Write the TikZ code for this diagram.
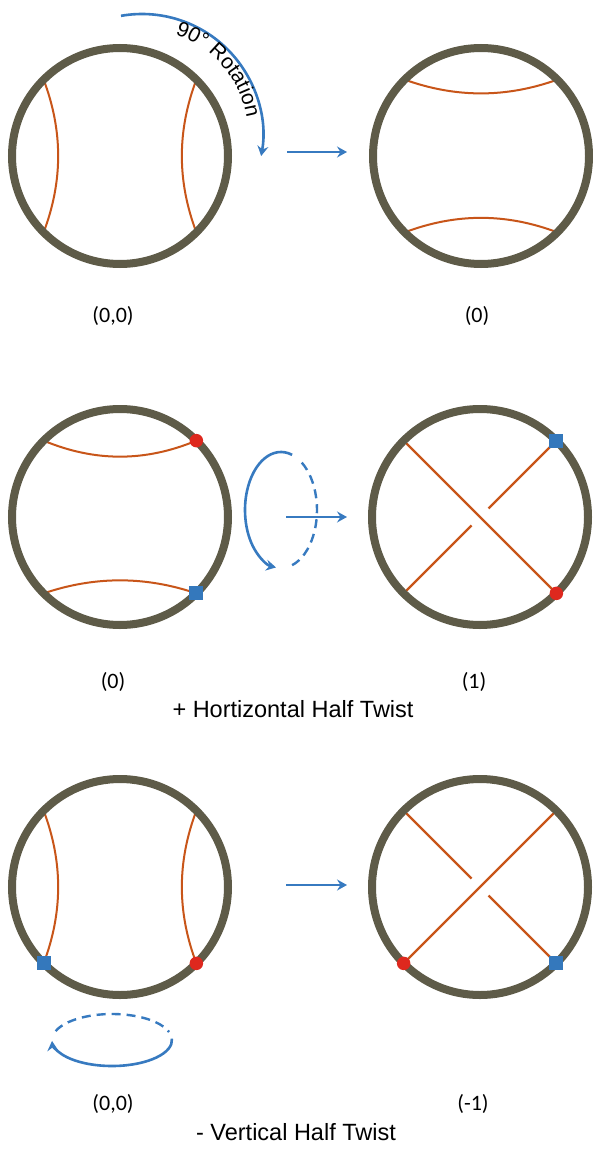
\documentclass[tikz,border=0pt]{standalone}
\usepackage{fontspec}
\setmainfont{Liberation Sans}
\newfontfamily\labf{Carlito}
\newfontfamily\arf{Liberation Sans}
\usetikzlibrary{arrows.meta,decorations.text}
\definecolor{ring}{RGB}{94,91,72}
\definecolor{chordc}{RGB}{200,85,25}
\definecolor{arrb}{RGB}{55,122,192}
\definecolor{dotred}{RGB}{222,40,30}
\definecolor{sqblue}{RGB}{52,120,188}
\pgfdeclarelayer{bg}
\pgfdeclarelayer{paper}
\pgfsetlayers{paper,bg,main}
\tikzset{
  ringnode/.style={circle,draw=ring,line width=8pt,minimum size=216pt,inner sep=0pt,outer sep=0pt},
  chord/.style={draw=chordc,line width=2pt},
  xline/.style={draw=chordc,line width=2.4pt},
  barrow/.style={draw=arrb,line width=2.6pt,-{Stealth[length=10pt,width=11pt,inset=3.5pt]}},
  dashline/.style={draw=arrb,line width=2.4pt,dash pattern=on 9pt off 6pt},
  reddot/.style={circle,fill=dotred,minimum size=13.5pt,inner sep=0pt},
  bluesq/.style={rectangle,fill=sqblue,minimum size=14pt,inner sep=0pt},
  lab/.style={font=\labf\fontsize{22}{26}\selectfont,inner sep=0pt},
  captxt/.style={font=\arf\fontsize{23.5}{28}\selectfont,inner sep=0pt,anchor=base},
}
\begin{document}
\begin{tikzpicture}[x=1pt,y=1pt]
\useasboundingbox (0,0) rectangle (593,-1150);
\begin{pgfonlayer}{paper}
\fill[white] (0,0) rectangle (593,-1150);
\end{pgfonlayer}
% rings
\node[ringnode] (c1) at (120,-156) {};
\node[ringnode] (c2) at (481,-156) {};
\node[ringnode] (c3) at (120,-517) {};
\node[ringnode] (c4) at (480,-517) {};
\node[ringnode] (c5) at (120,-887) {};
\node[ringnode] (c6) at (480,-887) {};
\begin{pgfonlayer}{bg}
% row 1
\draw[chord] (c1.135) .. controls ([shift={(-57pt,25pt)}]c1.center) and ([shift={(-57pt,-25pt)}]c1.center) .. (c1.225);
\draw[chord] (c1.45) .. controls ([shift={(57pt,25pt)}]c1.center) and ([shift={(57pt,-25pt)}]c1.center) .. (c1.-45);
\draw[chord] (c2.135) .. controls ([shift={(-25pt,58pt)}]c2.center) and ([shift={(25pt,58pt)}]c2.center) .. (c2.45);
\draw[chord] (c2.225) .. controls ([shift={(-25pt,-57pt)}]c2.center) and ([shift={(25pt,-57pt)}]c2.center) .. (c2.-45);
% row 2
\draw[chord] (c3.135) .. controls ([shift={(-25pt,55pt)}]c3.center) and ([shift={(25pt,55pt)}]c3.center) .. (c3.45);
\draw[chord] (c3.225) .. controls ([shift={(-25pt,-59pt)}]c3.center) and ([shift={(25pt,-59pt)}]c3.center) .. (c3.-45);
\draw[xline] (c4.135) -- (c4.-45);
\draw[xline] (c4.225) -- ([shift={(-8.5pt,-8.5pt)}]c4.center);
\draw[xline] ([shift={(8.5pt,8.5pt)}]c4.center) -- (c4.45);
% row 3
\draw[chord] (c5.135) .. controls ([shift={(-57pt,25pt)}]c5.center) and ([shift={(-57pt,-25pt)}]c5.center) .. (c5.225);
\draw[chord] (c5.45) .. controls ([shift={(57pt,25pt)}]c5.center) and ([shift={(57pt,-25pt)}]c5.center) .. (c5.-45);
\draw[xline] (c6.225) -- (c6.45);
\draw[xline] (c6.135) -- ([shift={(-8.5pt,8.5pt)}]c6.center);
\draw[xline] ([shift={(8.5pt,-8.5pt)}]c6.center) -- (c6.-45);
\end{pgfonlayer}
% markers
\node[reddot] (m1) at (c3.45) {};
\node[bluesq] (m2) at (c3.-45) {};
\node[bluesq] (m3) at (c4.45) {};
\node[reddot] (m4) at (c4.-45) {};
\node[bluesq] (m5) at (c5.225) {};
\node[reddot] (m6) at (c5.-45) {};
\node[reddot] (m7) at (c6.225) {};
\node[bluesq] (m8) at (c6.-45) {};
% straight arrows
\coordinate (a1s) at (287,-152); \coordinate (a1e) at (347,-152);
\coordinate (a2s) at (286,-517); \coordinate (a2e) at (347,-517);
\coordinate (a3s) at (286,-885); \coordinate (a3e) at (347,-885);
\draw[barrow] (a1s) -- (a1e);
\draw[barrow] (a2s) -- (a2e);
\draw[barrow] (a3s) -- (a3e);
% rotation arc
\coordinate (rc) at (142,-135);
\draw[barrow] ([shift={(100:121pt)}]rc) arc[start angle=100,end angle=-10,radius=121pt];
\path[decorate,decoration={text along path,text={|\arf\fontsize{21}{25}\selectfont|90° Rotation},text align={left indent=52pt}}]
  ([shift={(100:106pt)}]rc) arc[start angle=100,end angle=-10,radius=106pt];
% horizontal half twist symbol
\coordinate (e1) at (281,-510);
\draw[barrow] ([shift={(72:36pt and 58pt)}]e1) arc[start angle=72,end angle=262,x radius=36pt,y radius=58pt];
\draw[dashline] ([shift={(-72:36pt and 58pt)}]e1) arc[start angle=-72,end angle=60,x radius=36pt,y radius=58pt];
% vertical half twist symbol
\coordinate (e2) at (112,-1040);
\draw[barrow] ([shift={(3:60pt and 26pt)}]e2) arc[start angle=3,end angle=-178,x radius=60pt,y radius=26pt];
\draw[dashline] ([shift={(160:60pt and 26pt)}]e2) arc[start angle=160,end angle=18,x radius=60pt,y radius=26pt];
% labels
\node[lab] (l1) at (113,-316) {(0,0)};
\node[lab] (l2) at (477,-316) {(0)};
\node[lab] (l3) at (113,-682) {(0)};
\node[lab] (l4) at (474,-682) {(1)};
\node[captxt] (t1) at (293,-717) {+ Hortizontal Half Twist};
\node[lab] (l5) at (113,-1104) {(0,0)};
\node[lab] (l6) at (473,-1104) {(-1)};
\node[captxt] (t2) at (296,-1140) {- Vertical Half Twist};
\end{tikzpicture}
\end{document}
